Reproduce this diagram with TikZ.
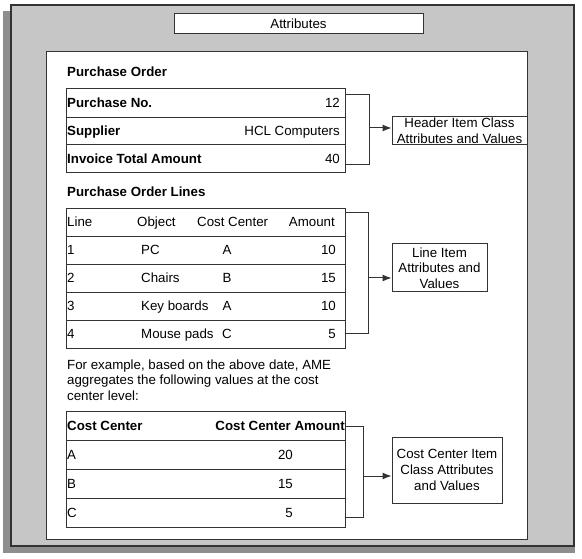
\documentclass[tikz,border=0pt]{standalone}
\usepackage{fontspec}
\setmainfont{Liberation Sans}
\usepackage{tikz}
\usetikzlibrary{arrows.meta}
\definecolor{panelbg}{HTML}{C6C6C6}
\definecolor{shadowgray}{HTML}{8E8E8E}
\definecolor{edgegray}{HTML}{333333}
\newcommand{\txt}{\fontsize{13.3}{15.6}\selectfont}

\begin{document}
\begin{tikzpicture}[x=1pt,y=-1pt,
  rowbox/.style={draw=edgegray, line width=1pt, fill=white, inner sep=0pt, minimum width=279pt, anchor=north west},
  cell/.style={font=\txt, inner sep=0pt, anchor=base west},
  cellr/.style={font=\txt, inner sep=0pt, anchor=base east},
  cellc/.style={font=\txt, inner sep=0pt, anchor=base},
  infobox/.style={draw=edgegray, line width=1pt, fill=white, inner sep=0pt, align=center, font=\txt},
  link/.style={draw=edgegray, line width=1pt},
  tip/.style={link, -{Latex[length=9pt,width=7pt]}}]
  \useasboundingbox (0,0) rectangle (582,559);
  % frame, shadow and white sheet
  \fill[shadowgray] (3,11) rectangle (575,553);
  \draw[edgegray, fill=panelbg, line width=1.4pt] (11,5) rectangle (574,546);
  \draw[edgegray, fill=white, line width=1pt] (46,52) rectangle (527,539);
  \node[draw=edgegray, fill=white, line width=1pt, minimum width=249pt, minimum height=20pt, inner sep=0pt, font=\txt] (title) at (298.5,24) {Attributes};

  % purchase order header
  \node[cell, font=\txt\bfseries] (potitle) at (67,77) {Purchase Order};
  \foreach \r/\y/\h/\k/\v in {1/88/29/Purchase No./12, 2/117/27/Supplier/HCL Computers, 3/144/28/Invoice Total Amount/40}{
    \node[rowbox, minimum height=\h] (po\r) at (66,\y) {};
    \node[cell, font=\txt\bfseries] (pok\r) at ([xshift=1pt, yshift=-4.6pt]po\r.west) {\k};
    \node[cellr] (pov\r) at ([xshift=-6pt, yshift=-4.6pt]po\r.east) {\v};
  }

  % purchase order lines
  \node[cell, font=\txt\bfseries] (poltitle) at (67,197) {Purchase Order Lines};
  \foreach \r in {0,...,4}
    \node[rowbox, minimum height=28] (pol\r) at (66,{208+28*\r}) {};
  \node[cell] (hline) at (67,226.6) {Line};
  \node[cell] (hobj) at (137,226.6) {Object};
  \node[cell] (hcc) at (197,226.6) {Cost Center};
  \node[cellr] (hamt) at (335,226.6) {Amount};
  \foreach \r/\o/\c/\a in {1/PC/A/10, 2/Chairs/B/15, 3/Key boards/A/10, 4/Mouse pads/C/5}{
    \node[cell] (ln\r) at (67,{226.6+28*\r}) {\r};
    \node[cell] (obj\r) at (141,{226.6+28*\r}) {\o};
    \node[cellc] (cc\r) at (227,{226.6+28*\r}) {\c};
    \node[cellr] (amt\r) at (336,{226.6+28*\r}) {\a};
  }

  \node[cell, anchor=north west, align=left] (note) at (67,359.4)
    {For example, based on the above date, AME\\aggregates the following values at the cost\\center level:};

  % cost center totals
  \foreach \r in {0,...,3}
    \node[rowbox, minimum height=29] (cct\r) at (66,{411+29*\r}) {};
  \node[cell, font=\txt\bfseries] (hcct) at (67,430.1) {Cost Center};
  \node[cellr, font=\txt\bfseries] (hcca) at (345,430.1) {Cost Center Amount};
  \foreach \r/\c/\a in {1/A/20, 2/B/15, 3/C/5}{
    \node[cell] (ccn\r) at (67,{430.6+29*\r}) {\c};
    \node[cellr] (cca\r) at (293,{430.6+29*\r}) {\a};
  }

  % item class boxes
  \node[infobox, minimum width=135, minimum height=28] (hdrinfo) at (459.5,131) {Header Item Class\\Attributes and Values};
  \node[infobox, minimum width=95, minimum height=48] (lineinfo) at (439.5,268) {Line Item\\Attributes and\\Values};
  \node[infobox, minimum width=110, minimum height=66] (ccinfo) at (447,470) {Cost Center Item\\Class Attributes\\and Values};

  % brackets
  \coordinate (b1t) at (369,95);  \coordinate (b1b) at (369,165); \coordinate (a1) at (369,128);
  \coordinate (b2t) at (368,213); \coordinate (b2b) at (368,334); \coordinate (a2) at (368,278);
  \coordinate (b3t) at (363,426); \coordinate (b3b) at (363,517); \coordinate (a3) at (363,476);
  \draw[link] (po1.east |- b1t) -- (b1t) -- (b1b) -- (po3.east |- b1b);
  \draw[link] (pol0.east |- b2t) -- (b2t) -- (b2b) -- (pol4.east |- b2b);
  \draw[link] (cct0.east |- b3t) -- (b3t) -- (b3b) -- (cct3.east |- b3b);
  \draw[tip] (a1) -- (a1 -| hdrinfo.west);
  \draw[tip] (a2) -- (a2 -| lineinfo.west);
  \draw[tip] (a3) -- (a3 -| ccinfo.west);
\end{tikzpicture}
\end{document}
